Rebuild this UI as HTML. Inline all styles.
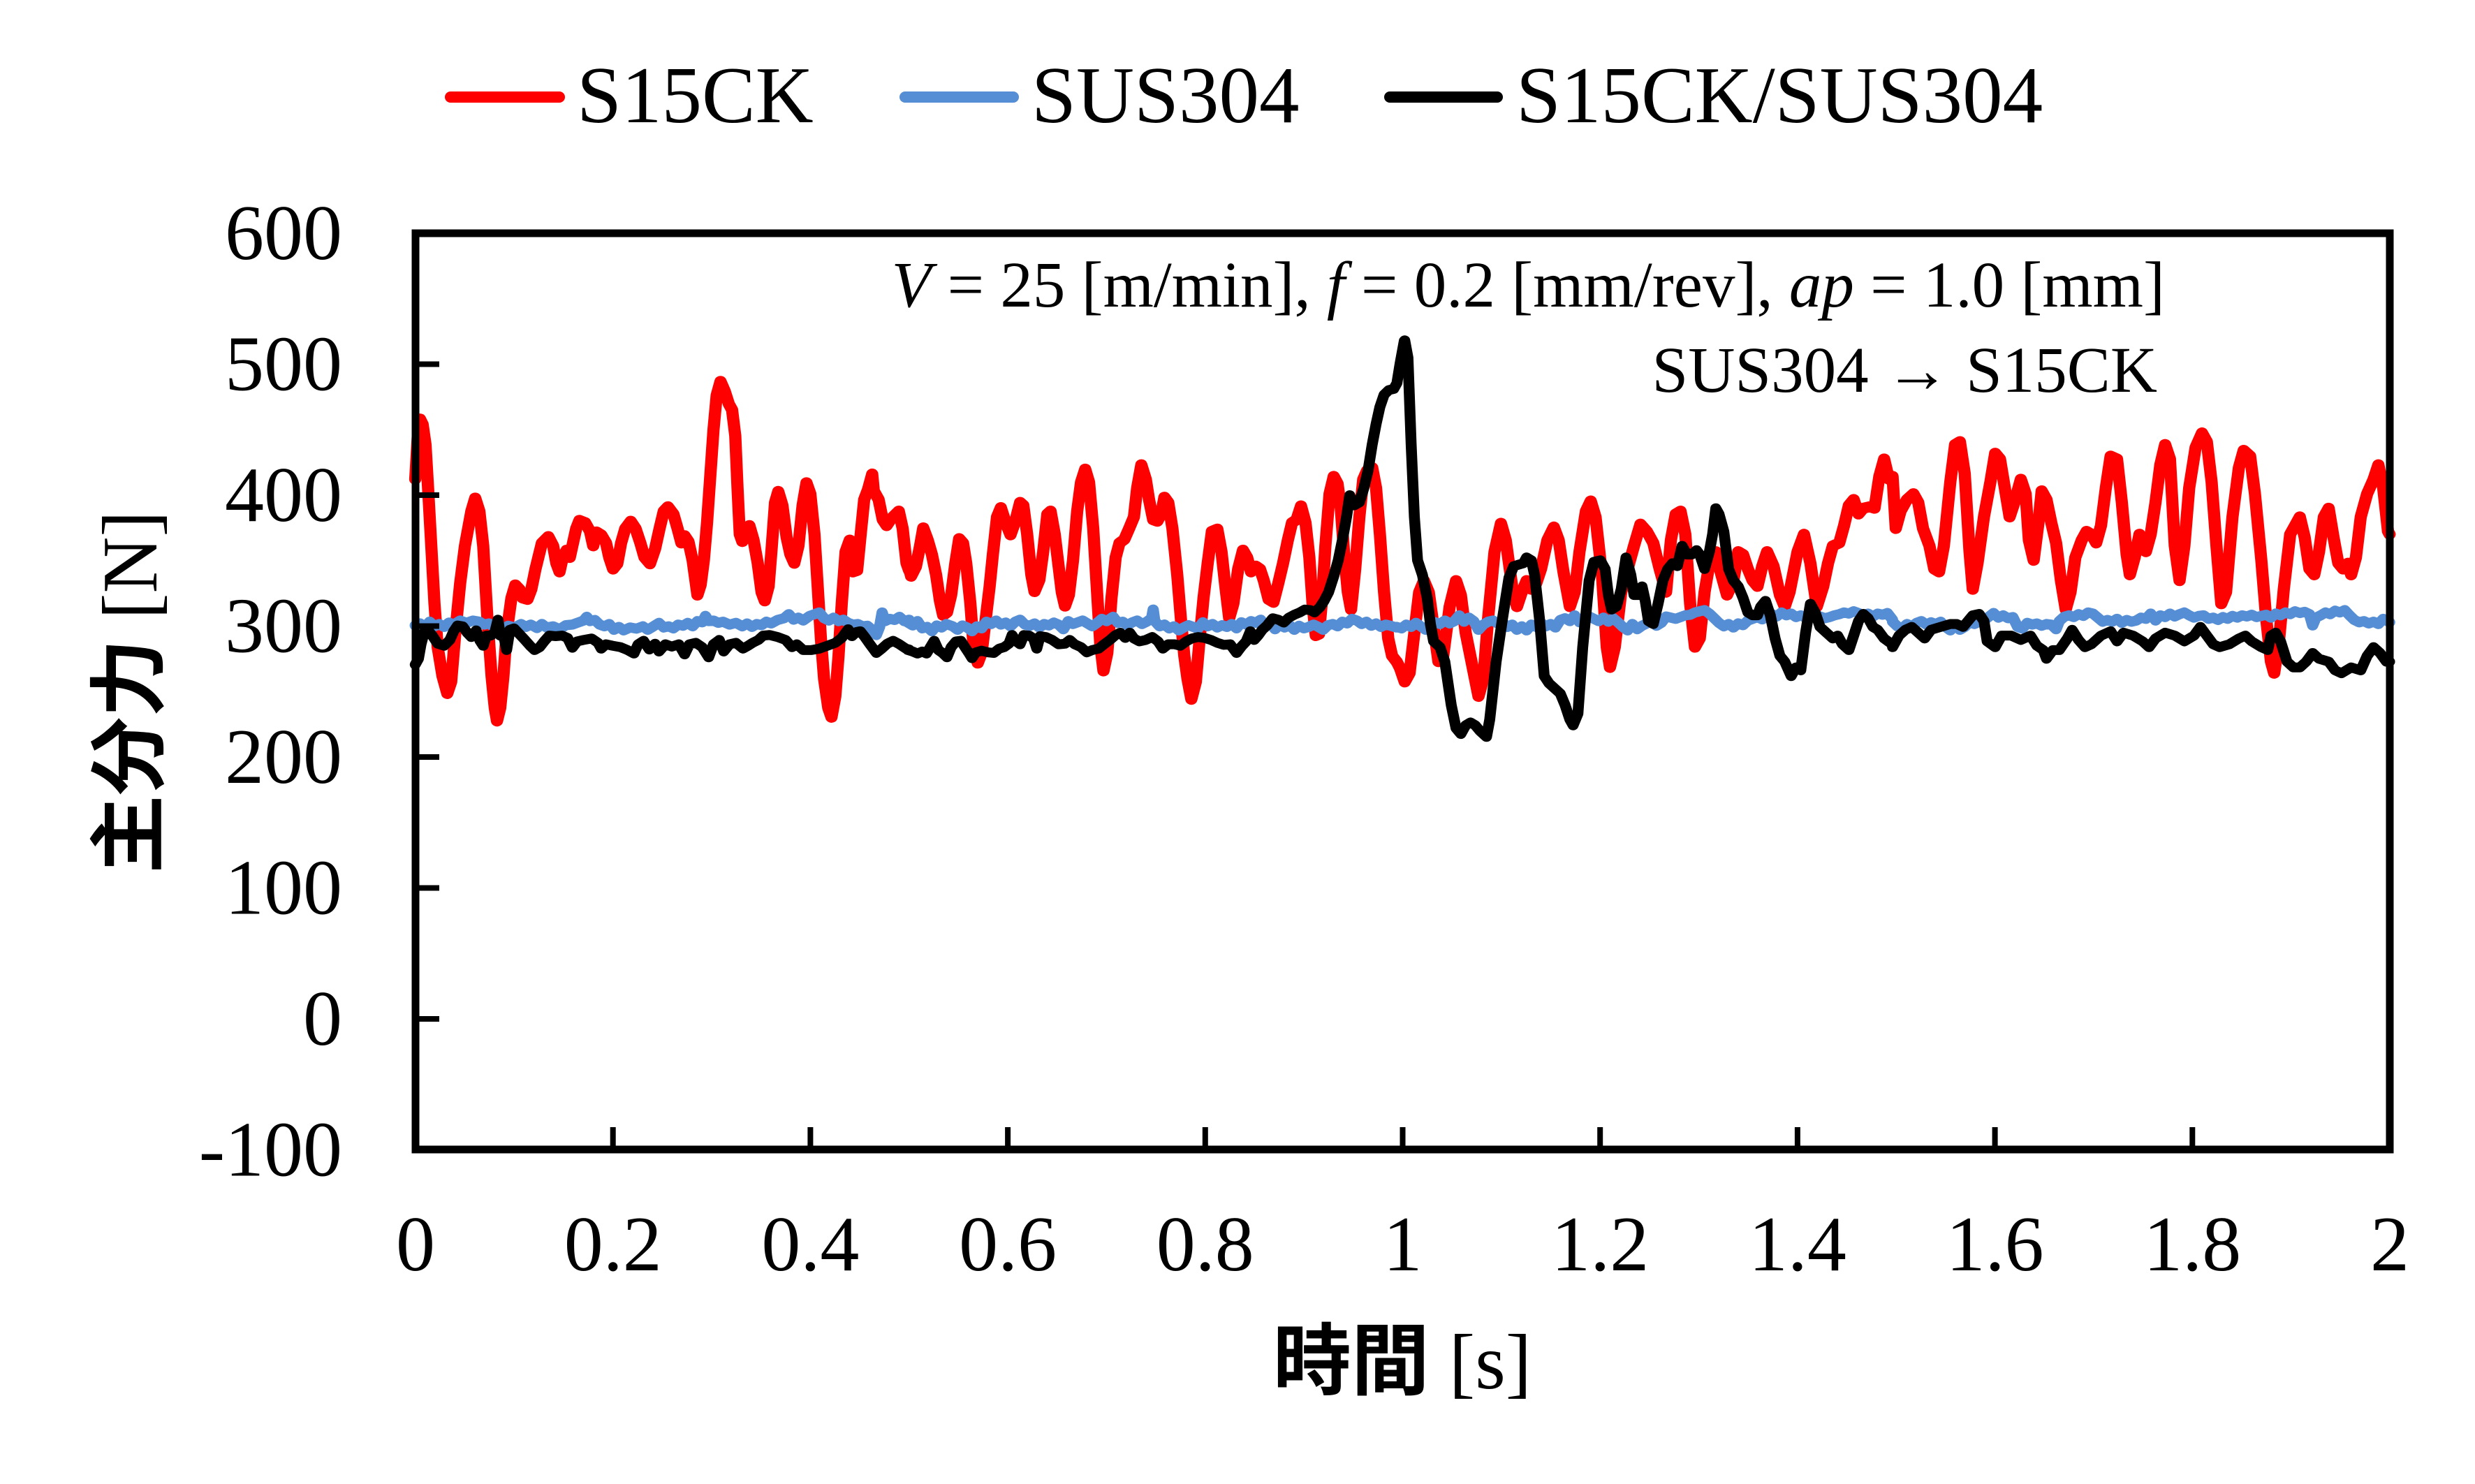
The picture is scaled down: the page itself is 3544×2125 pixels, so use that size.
<!DOCTYPE html>
<html><head><meta charset="utf-8"><style>
html,body{margin:0;padding:0;background:#fff;overflow:hidden;}
svg{display:block;}
.t{font-family:"Liberation Serif","Noto Serif CJK SC",serif;fill:#000;}
.cjk{font-family:"Noto Sans CJK JP","Liberation Sans",sans-serif;}
.s{fill:none;stroke-linejoin:round;stroke-linecap:round;}
.r{stroke:#ff0000;stroke-width:38;}
.b{stroke:#558ed5;stroke-width:35;}
.k{stroke:#000;stroke-width:34;}
</style></head><body>
<svg width="3544" height="2125" viewBox="0 0 3544 2125" xmlns="http://www.w3.org/2000/svg">
<rect width="3544" height="2125" fill="#fff"/>

<!-- legend -->
<line x1="645" y1="139" x2="801" y2="139" stroke="#ff0000" stroke-width="16" stroke-linecap="round"/>
<text class="t" x="826" y="175" font-size="115">S15CK</text>
<line x1="1296" y1="139" x2="1451" y2="139" stroke="#558ed5" stroke-width="16" stroke-linecap="round"/>
<text class="t" x="1477" y="175" font-size="115">SUS304</text>
<line x1="1990" y1="139" x2="2144" y2="139" stroke="#000" stroke-width="16" stroke-linecap="round"/>
<text class="t" x="2171" y="175" font-size="115">S15CK/SUS304</text>

<!-- annotation -->
<text class="t" x="3100" y="439" font-size="93" text-anchor="end"><tspan font-style="italic">V</tspan> = 25 [m/min], <tspan font-style="italic">f</tspan> = 0.2 [mm/rev],  <tspan font-style="italic">ap</tspan> = 1.0 [mm]</text>
<text class="t" x="3089" y="561" font-size="93" text-anchor="end">SUS304 → S15CK</text>

<!-- series -->
<g class="s">
<!-- RED -->
<g transform="translate(590,450) scale(0.45918,0.41454)"><polyline class="r" points="10,570 18,420 25,362 33,380 42,450 50,600 60,800 70,1000 80,1150 95,1250 110,1310 122,1270 135,1100 150,930 165,800 185,680 197,635 210,680 222,800 235,1050 248,1250 258,1360 265,1405 275,1360 285,1250 295,1100 310,980 322,935 335,950 345,980 360,985 372,950 385,880 405,790 425,768 440,800 450,860 460,890 470,840 482,815 492,840 500,800 512,740 522,712 540,720 555,750 565,800 575,752 590,762 605,790 615,840 627,880 640,862 652,790 665,740 682,715 697,740 712,790 725,840 742,862 758,810 772,740 785,680 798,665 815,690 828,740 840,790 850,765 862,785 875,850 885,930 890,970 900,935 910,850 920,720 930,560 940,400 950,280 962,232 975,265 988,310 998,330 1008,420 1015,600 1022,760 1030,785 1040,740 1052,730 1065,780 1078,860 1090,960 1100,990 1112,940 1122,800 1132,650 1142,612 1155,660 1168,770 1180,830 1192,860 1205,800 1218,660 1230,582 1242,620 1255,760 1265,940 1275,1120 1285,1260 1298,1360 1308,1392 1320,1320 1330,1180 1340,1000 1352,820 1365,780 1375,890 1388,885 1400,750 1410,640 1422,605 1435,552 1440,610 1455,640 1468,710 1480,730 1495,705 1518,680 1530,740 1542,860 1550,885"/></g>
<g transform="translate(1300,450) scale(0.45918,0.41454)"><polyline class="r" points="0,860 10,905 25,872 38,800 48,738 62,780 75,830 88,900 100,990 110,1040 122,1030 135,970 148,860 160,775 172,790 182,860 195,1000 205,1150 218,1205 230,1170 242,1060 255,940 265,830 278,700 290,668 305,720 320,762 335,715 350,650 360,660 372,760 385,900 395,958 410,918 422,820 435,690 445,680 458,760 470,870 480,960 490,1008 502,970 515,850 528,680 540,580 553,535 565,580 578,740 590,960 600,1140 610,1232 622,1170 635,980 648,840 660,790 675,778 690,740 705,700 715,600 728,520 742,570 752,640 765,710 778,715 790,690 800,632 812,650 825,740 840,900 852,1060 862,1180 872,1260 884,1330 898,1270 910,1120 922,980 935,860 948,750 965,742 978,820 990,940 1002,1050 1015,1000 1030,880 1045,815 1058,840 1070,890 1085,870 1098,880 1110,920 1125,985 1140,995 1155,930 1170,860 1185,780 1198,720 1212,710 1226,662 1240,720 1252,840 1262,1000 1272,1110 1282,1105 1292,980 1302,800 1315,620 1328,560 1340,585 1350,670 1360,820 1372,960 1382,1020 1395,880 1408,700 1420,570 1432,540 1448,530 1460,600 1472,760 1485,960 1498,1120 1510,1180 1524,1200"/></g>
<g transform="translate(2000,450) scale(0.45918,0.41454)"><polyline class="r" points="0,1200 10,1222 25,1270 40,1240 55,1100 70,960 85,920 100,960 115,1080 130,1200 145,1180 165,1010 185,920 200,970 215,1100 235,1210 255,1320 270,1260 285,1050 305,820 325,722 340,780 360,940 375,1010 390,960 405,920 420,950 435,930 450,880 470,780 490,735 505,780 520,890 540,1010 555,960 570,820 590,680 605,645 620,700 640,900 655,1150 665,1220 680,1150 700,960 720,880 740,800 760,725 780,750 800,790 820,880 840,960 855,780 870,690 885,680 900,760 915,1000 930,1150 945,1120 960,960 980,830 995,820 1010,890 1030,970 1050,920 1065,820 1080,830 1095,880 1110,920 1125,940 1140,870 1155,820 1175,870 1195,970 1210,1010 1225,960 1250,820 1270,760 1290,860 1310,1010 1330,940 1345,860 1360,800 1380,790 1395,730 1410,660 1425,640 1440,690 1455,670 1475,665 1490,670 1505,560 1520,500 1535,570"/></g>
<g transform="translate(2710,450) scale(0.45918,0.41454)"><polyline class="r" points="0,560 10,740 25,680 45,640 65,620 80,650 95,740 115,800 130,880 145,890 160,800 180,580 195,450 210,440 225,550 240,820 250,950 265,860 285,700 305,580 320,480 335,500 350,600 365,700 380,650 400,570 415,620 425,780 440,850 455,720 465,610 480,640 495,720 510,790 525,920 540,1020 555,960 570,840 590,780 605,750 620,760 635,790 650,730 665,600 680,490 700,500 715,650 730,830 740,900 755,840 770,760 790,820 805,760 820,650 835,520 850,450 865,500 880,800 895,920 910,800 925,600 945,460 965,410 980,440 995,580 1010,800 1025,1000 1040,960 1060,700 1080,530 1095,470 1115,490 1130,620 1150,850 1165,1050 1180,1200 1190,1240 1205,1130 1220,950 1240,760 1255,730 1270,700 1285,770 1300,880 1315,900 1330,820 1345,700 1360,670 1375,770 1390,860 1405,880 1420,860 1430,900 1445,840 1460,700 1480,620 1500,570 1515,520 1530,600 1545,750 1550,760"/></g>

<!-- BLUE -->
<g transform="translate(590,450) scale(0.45918,0.41454)"><polyline class="b" points="10,1075 25,1068 40,1080 55,1062 70,1078 85,1070 100,1080 115,1065 130,1072 150,1058 170,1066 190,1058 210,1062 225,1072 240,1068 255,1080 270,1072 285,1085 300,1076 320,1082 340,1070 355,1080 370,1072 390,1084 405,1070 420,1082 440,1078 460,1088 480,1074 500,1072 520,1064 535,1058 545,1045 555,1060 570,1056 585,1072 600,1078 615,1070 630,1090 645,1080 660,1092 680,1082 700,1086 720,1078 735,1090 750,1080 770,1066 785,1082 800,1078 815,1085 830,1072 845,1076 860,1066 875,1078 890,1060 905,1064 915,1042 925,1060 940,1058 955,1066 970,1062 990,1072 1010,1066 1030,1078 1045,1068 1060,1080 1075,1070 1090,1074 1105,1062 1120,1068 1140,1056 1160,1050 1175,1036 1190,1055 1205,1048 1220,1058 1240,1042 1255,1036 1270,1030 1285,1050 1300,1058 1315,1048 1330,1060 1345,1055 1360,1066 1375,1072 1390,1070 1405,1078 1420,1076 1435,1090 1448,1108 1458,1080 1466,1030 1475,1060 1490,1052 1505,1056 1520,1045 1535,1060 1550,1055"/></g>
<g transform="translate(1300,450) scale(0.45918,0.41454)"><polyline class="b" points="0,1065 15,1075 30,1060 45,1085 60,1080 75,1095 90,1075 105,1082 120,1070 140,1078 155,1090 170,1075 185,1082 200,1095 215,1078 230,1085 245,1062 260,1070 275,1058 290,1072 305,1065 320,1078 335,1062 350,1055 365,1072 380,1076 395,1068 410,1082 425,1070 440,1075 455,1065 470,1072 485,1088 500,1060 515,1070 530,1064 545,1058 560,1068 575,1078 590,1066 605,1052 620,1060 640,1045 655,1066 670,1062 685,1074 700,1064 715,1058 730,1070 745,1062 760,1050 765,1020 770,1060 785,1078 800,1072 815,1085 830,1078 845,1092 860,1082 875,1074 890,1080 905,1086 920,1064 935,1078 950,1070 965,1082 980,1074 995,1080 1010,1070 1025,1085 1040,1064 1055,1072 1070,1060 1085,1066 1100,1055 1115,1075 1130,1066 1145,1088 1160,1072 1175,1082 1190,1074 1205,1090 1220,1076 1235,1085 1250,1080 1265,1072 1280,1080 1295,1090 1310,1074 1325,1070 1340,1078 1355,1062 1370,1068 1385,1052 1400,1058 1415,1070 1430,1062 1445,1076 1460,1068 1475,1080 1490,1072 1505,1076 1524,1082"/></g>
<g transform="translate(2000,450) scale(0.45918,0.41454)"><polyline class="b" points="0,1080 15,1085 30,1072 45,1080 60,1066 75,1078 90,1090 105,1070 120,1064 135,1070 150,1058 165,1068 180,1060 195,1040 210,1062 225,1048 240,1060 255,1090 270,1072 285,1062 300,1058 315,1068 330,1064 345,1080 360,1072 375,1090 390,1078 405,1092 420,1072 435,1080 450,1066 465,1078 480,1070 495,1082 510,1056 525,1050 540,1060 555,1040 570,1064 585,1048 600,1044 615,1052 630,1060 645,1048 660,1062 675,1050 690,1064 705,1080 720,1092 735,1070 750,1088 765,1076 780,1068 795,1060 810,1076 825,1066 840,1044 855,1048 870,1052 885,1046 900,1040 915,1038 930,1030 945,1026 960,1022 975,1034 990,1050 1005,1066 1020,1078 1035,1070 1050,1082 1065,1068 1080,1074 1095,1058 1110,1052 1125,1046 1140,1054 1155,1040 1170,1036 1185,1044 1200,1030 1215,1040 1230,1034 1245,1046 1260,1040 1275,1048 1290,1036 1305,1040 1320,1044 1335,1050 1350,1046 1365,1040 1380,1036 1395,1030 1410,1034 1425,1026 1440,1032 1455,1040 1470,1034 1485,1044 1500,1034 1515,1038 1530,1032 1546,1055"/></g>
<g transform="translate(2710,450) scale(0.45918,0.41454)"><polyline class="b" points="0,1062 15,1078 30,1085 45,1070 60,1078 75,1066 90,1060 105,1072 120,1064 135,1070 150,1062 165,1080 180,1092 195,1072 210,1090 225,1080 240,1064 255,1070 270,1062 285,1058 300,1045 315,1032 330,1048 345,1040 360,1050 375,1046 390,1080 405,1086 420,1066 435,1072 450,1068 465,1076 480,1070 495,1072 510,1088 520,1060 535,1045 550,1040 565,1046 580,1036 595,1042 610,1030 625,1034 640,1048 655,1062 670,1056 685,1062 700,1052 715,1066 730,1056 745,1062 760,1058 775,1048 790,1052 805,1034 820,1058 835,1040 850,1046 865,1034 880,1044 895,1036 910,1030 925,1040 940,1048 955,1042 970,1040 985,1052 1000,1048 1015,1056 1030,1046 1045,1052 1060,1042 1075,1048 1090,1040 1105,1044 1120,1038 1135,1046 1150,1042 1165,1038 1180,1048 1195,1034 1210,1040 1225,1030 1240,1036 1255,1026 1270,1032 1285,1028 1300,1036 1310,1075 1320,1048 1335,1040 1350,1030 1365,1036 1380,1024 1395,1030 1410,1022 1425,1040 1440,1056 1455,1064 1470,1060 1485,1068 1500,1062 1515,1070 1530,1052 1550,1064"/></g>

<!-- BLACK -->
<g transform="translate(590,450) scale(0.45918,0.41454)"><polyline class="k" points="10,1210 20,1190 28,1140 38,1098 48,1090 62,1108 80,1138 100,1145 118,1125 130,1095 142,1075 158,1078 172,1100 185,1115 200,1092 212,1128 222,1145 232,1110 245,1110 258,1100 268,1055 275,1110 285,1105 295,1160 305,1090 318,1085 335,1105 352,1125 368,1145 382,1160 398,1150 412,1130 428,1110 448,1112 468,1110 485,1118 500,1152 515,1130 535,1125 560,1120 580,1135 590,1155 605,1140 625,1145 650,1150 672,1160 692,1172 705,1140 722,1128 740,1158 758,1138 770,1165 790,1140 810,1148 832,1140 850,1175 865,1140 885,1135 905,1150 925,1185 940,1140 958,1125 972,1165 990,1140 1010,1135 1032,1155 1048,1145 1062,1135 1080,1125 1095,1110 1115,1108 1140,1115 1165,1125 1185,1150 1200,1140 1220,1160 1245,1160 1270,1155 1295,1145 1320,1135 1340,1118 1360,1088 1372,1112 1385,1098 1398,1095 1412,1115 1428,1140 1448,1170 1465,1155 1482,1138 1500,1128 1520,1140 1540,1155 1550,1158"/></g>
<g transform="translate(1300,450) scale(0.45918,0.41454)"><polyline class="k" points="0,1160 15,1165 30,1172 45,1165 58,1172 70,1150 82,1128 95,1160 108,1170 122,1185 135,1150 150,1130 165,1128 178,1150 190,1170 200,1188 212,1168 230,1162 250,1168 268,1170 285,1155 300,1150 315,1138 325,1108 338,1130 350,1140 362,1108 378,1110 392,1120 402,1155 412,1112 430,1115 450,1125 470,1140 490,1138 505,1125 520,1140 540,1150 558,1168 575,1160 595,1155 612,1140 630,1125 648,1108 662,1100 678,1118 692,1100 705,1120 722,1130 742,1125 762,1115 780,1130 795,1155 812,1140 832,1140 850,1145 868,1130 885,1120 905,1115 925,1118 945,1125 965,1135 985,1142 1005,1140 1025,1170 1040,1148 1055,1130 1068,1095 1080,1125 1092,1110 1105,1090 1120,1075 1138,1050 1155,1055 1172,1065 1188,1048 1205,1038 1222,1030 1238,1020 1255,1022 1268,1030 1285,1012 1298,990 1312,960 1328,905 1342,850 1355,780 1368,700 1378,625 1392,660 1408,650 1422,600 1435,540 1448,450 1460,380 1472,320 1485,278 1500,262 1515,258 1525,238 1535,170 1548,92"/></g>
<g transform="translate(2000,450) scale(0.45918,0.41454)"><polyline class="k" points="25,90 35,150 45,450 55,700 65,850 80,900 95,980 105,1070 115,1130 135,1150 150,1200 170,1350 185,1430 200,1450 215,1420 230,1410 245,1420 260,1440 280,1460 290,1400 310,1200 330,1050 350,910 365,870 380,865 395,860 405,840 420,850 430,900 445,1050 460,1250 475,1275 490,1290 510,1310 525,1350 540,1400 550,1420 565,1380 580,1150 600,920 615,855 635,850 650,880 660,970 670,1020 685,1010 700,950 715,840 730,900 740,970 755,970 765,940 775,990 785,1060 800,1070 815,1000 830,920 845,880 860,860 875,870 890,800 905,830 920,830 935,815 945,830 960,880 975,820 985,760 995,670 1005,690 1020,750 1035,880 1050,920 1065,940 1080,980 1095,1030 1110,1040 1125,1040 1135,1010 1150,990 1165,1040 1180,1120 1195,1180 1210,1200 1230,1250 1245,1220 1260,1230 1275,1100 1290,1000 1305,1030 1320,1080 1340,1100 1360,1120 1375,1110 1390,1140 1410,1160 1425,1110 1440,1060 1455,1035 1470,1050 1485,1080 1500,1090 1520,1120 1545,1140"/></g>
<g transform="translate(2710,450) scale(0.45918,0.41454)"><polyline class="k" points="0,1150 20,1110 40,1090 60,1080 80,1100 100,1120 120,1090 150,1080 180,1070 200,1070 220,1080 250,1040 270,1035 285,1060 295,1130 320,1150 340,1110 370,1110 400,1125 430,1110 450,1145 470,1160 480,1190 500,1160 520,1160 545,1120 560,1090 580,1125 600,1150 620,1140 650,1110 680,1095 700,1130 720,1100 750,1110 780,1130 800,1150 820,1120 850,1100 880,1110 910,1130 940,1110 960,1080 980,1110 1000,1140 1020,1150 1050,1140 1080,1120 1100,1110 1120,1130 1150,1150 1170,1160 1180,1110 1195,1100 1210,1130 1230,1200 1250,1220 1270,1220 1290,1200 1310,1170 1330,1190 1360,1200 1380,1230 1400,1240 1430,1220 1460,1230 1480,1180 1500,1150 1520,1170 1540,1200 1550,1200"/></g>
</g>

<!-- frame -->
<rect x="595" y="334" width="2827" height="1312" fill="none" stroke="#000" stroke-width="11"/>
<!-- y ticks -->
<g stroke="#000" stroke-width="8">
<line x1="595" y1="521.5" x2="629" y2="521.5"/>
<line x1="595" y1="709" x2="629" y2="709"/>
<line x1="595" y1="896.5" x2="629" y2="896.5"/>
<line x1="595" y1="1084" x2="629" y2="1084"/>
<line x1="595" y1="1271.5" x2="629" y2="1271.5"/>
<line x1="595" y1="1459" x2="629" y2="1459"/>
<!-- x ticks -->
<line x1="877.7" y1="1646" x2="877.7" y2="1614"/>
<line x1="1160.4" y1="1646" x2="1160.4" y2="1614"/>
<line x1="1443.1" y1="1646" x2="1443.1" y2="1614"/>
<line x1="1725.8" y1="1646" x2="1725.8" y2="1614"/>
<line x1="2008.5" y1="1646" x2="2008.5" y2="1614"/>
<line x1="2291.2" y1="1646" x2="2291.2" y2="1614"/>
<line x1="2573.9" y1="1646" x2="2573.9" y2="1614"/>
<line x1="2856.6" y1="1646" x2="2856.6" y2="1614"/>
<line x1="3139.3" y1="1646" x2="3139.3" y2="1614"/>
</g>

<!-- y tick labels -->
<g class="t" font-size="112" text-anchor="end">
<text x="490" y="371">600</text>
<text x="490" y="558.5">500</text>
<text x="490" y="746">400</text>
<text x="490" y="933.5">300</text>
<text x="490" y="1121">200</text>
<text x="490" y="1308.5">100</text>
<text x="490" y="1496">0</text>
<text x="490" y="1683.5">-100</text>
</g>
<!-- x tick labels -->
<g class="t" font-size="112" text-anchor="middle">
<text x="595" y="1819">0</text>
<text x="877.7" y="1819">0.2</text>
<text x="1160.4" y="1819">0.4</text>
<text x="1443.1" y="1819">0.6</text>
<text x="1725.8" y="1819">0.8</text>
<text x="2008.5" y="1819">1</text>
<text x="2291.2" y="1819">1.2</text>
<text x="2573.9" y="1819">1.4</text>
<text x="2856.6" y="1819">1.6</text>
<text x="3139.3" y="1819">1.8</text>
<text x="3422" y="1819">2</text>
</g>

<!-- axis titles -->
<text class="t" x="2008" y="1988" font-size="112" text-anchor="middle"><tspan class="cjk" font-weight="bold">時間</tspan> [s]</text>
<text class="t" transform="translate(224,991) rotate(-90)" font-size="112" text-anchor="middle"><tspan class="cjk" font-weight="bold">主分力</tspan> [N]</text>
</svg>
</body></html>
